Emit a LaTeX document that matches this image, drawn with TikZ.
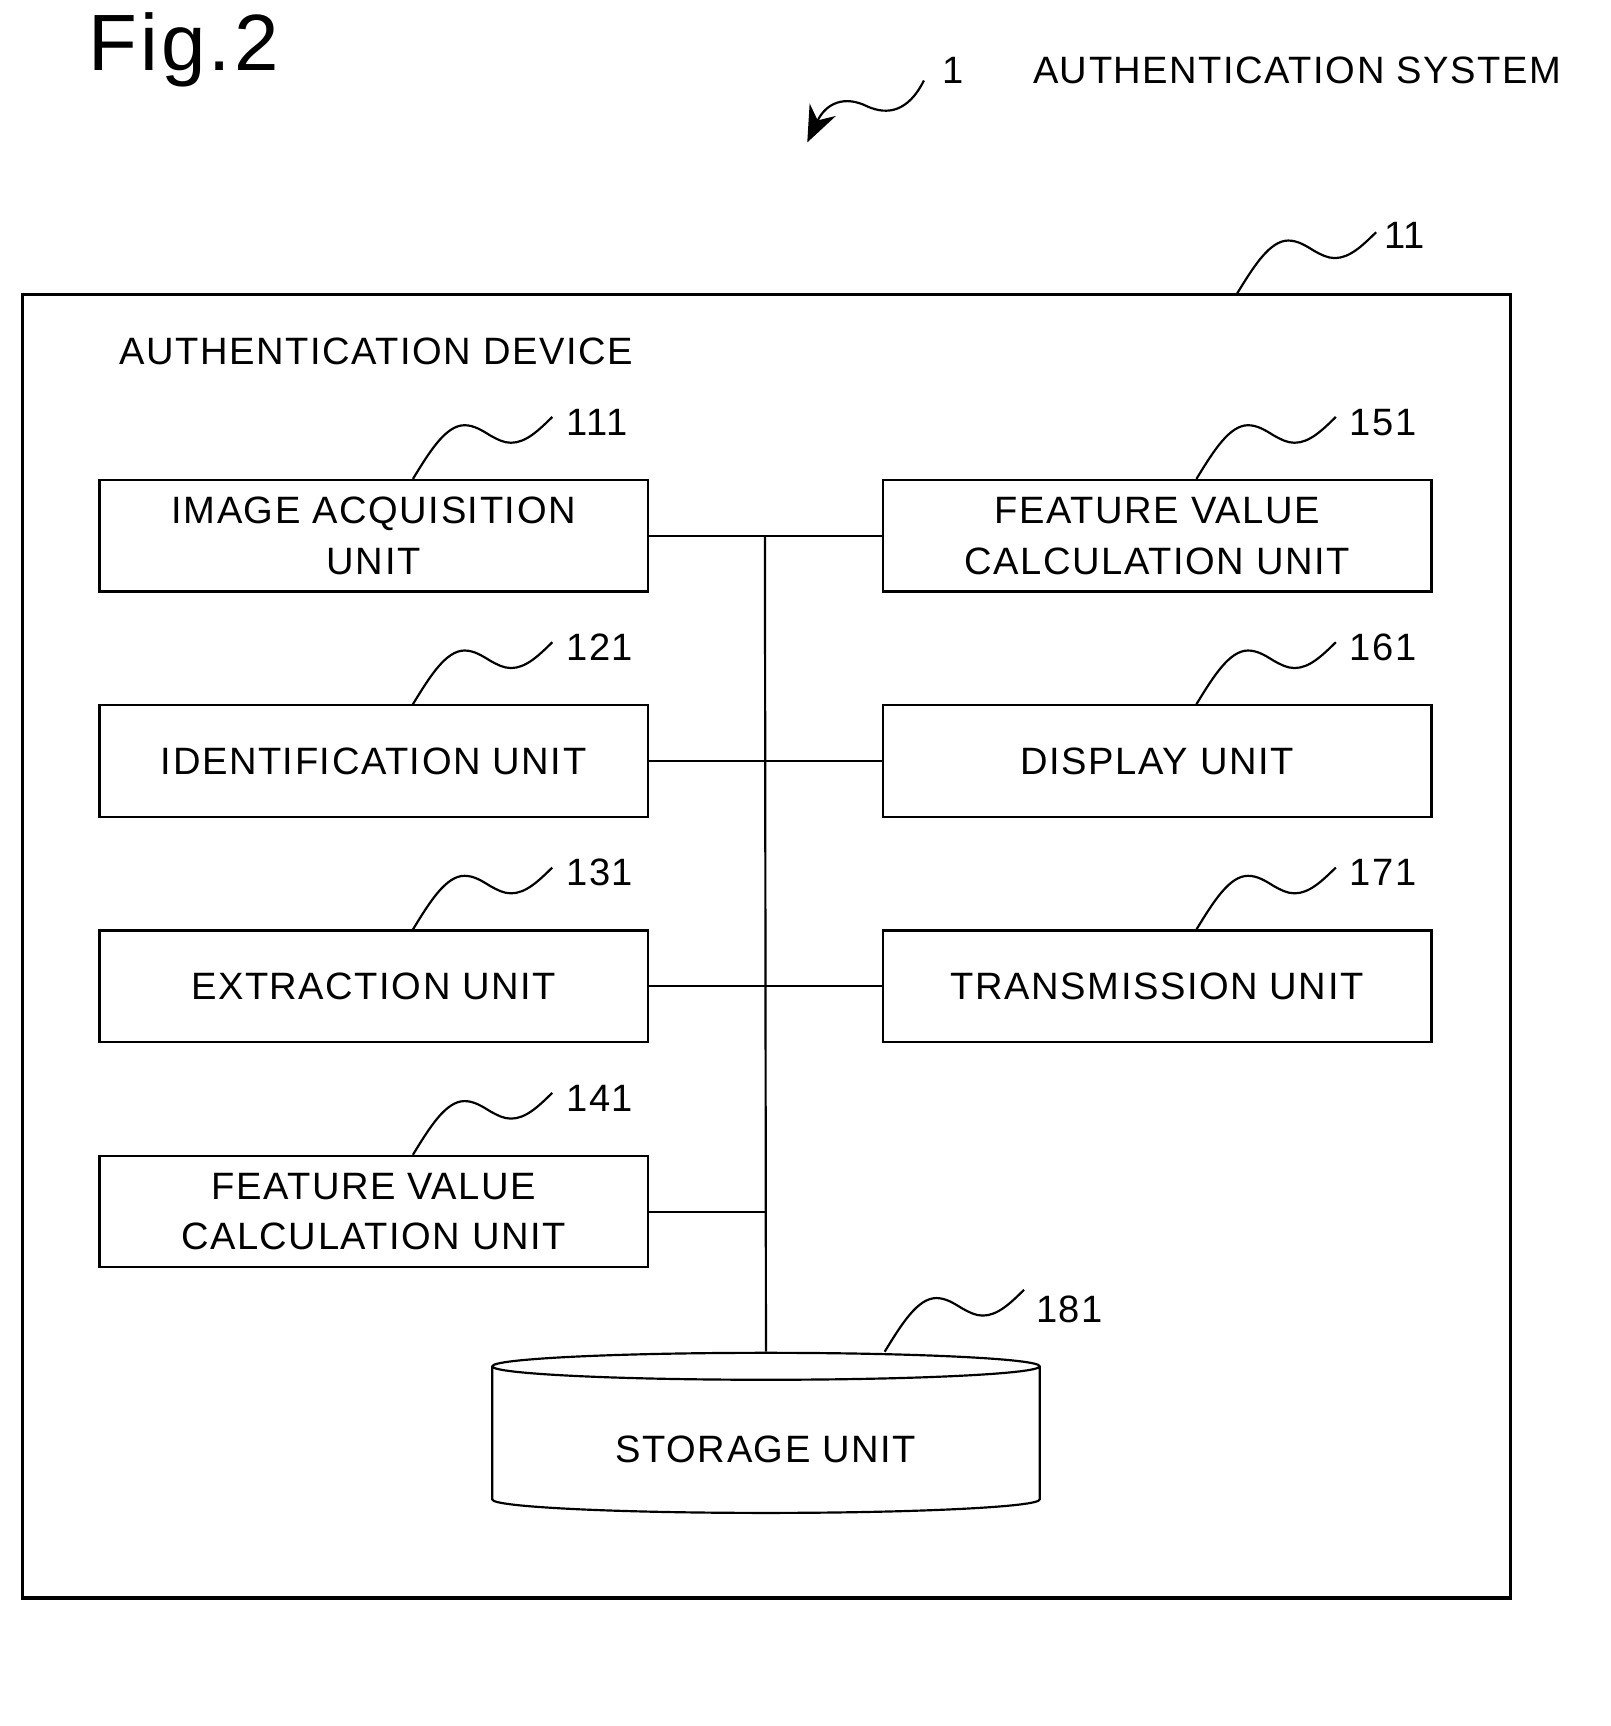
\documentclass[tikz,border=0pt]{standalone}
\usepackage{fontspec}
\setmainfont[LetterSpace=4]{Liberation Sans}
\usetikzlibrary{positioning,shapes.geometric,arrows.meta}

\tikzset{
  unit/.style={draw, line width=0.6pt, minimum width=5.31cm, minimum height=1.08cm,
    align=center, font=\fontsize{10.5}{14}\selectfont},
  refno/.style={font=\fontsize{10.5}{14}\selectfont, anchor=west, inner sep=0pt},
  lead/.style={line width=0.6pt},
  bus/.style={line width=0.6pt},
}

\begin{document}
\begin{tikzpicture}[x=0.01cm,y=-0.01cm]
  \useasboundingbox (0,0) rectangle (1560,1672);
  \node[font=\fontsize{22}{26}\selectfont, anchor=west, inner sep=0pt] (fig) at (85,48) {Fig.2};
  \node[refno] (sys) at (1000,68) {AUTHENTICATION SYSTEM};
  \node[refno] (n1) at (912,68) {1};
  \coordinate (s1) at (895,78);
  \coordinate (t1) at (782,138);
  \draw[lead, -{Stealth[length=3.5mm,width=2.8mm]}] (s1) .. controls (880,108) and (860,112) .. (840,103)
     .. controls (818,92) and (800,100) .. (t1);

  % device
  \draw[line width=0.9pt] (22,285) rectangle (1463,1548);
  \node[refno] (dev) at (115,340) {AUTHENTICATION DEVICE};
  \node[refno] (n11) at (1340,228) {11};
  \coordinate (s11) at (1198,285);
  \draw[lead] (s11) sin ++(50,-52) cos ++(25,10) sin ++(20,7) cos ++(40,-25);

  % units
  \node[unit] (img) at (362,519) {IMAGE ACQUISITION\\UNIT};
  \node[unit, below=1.08cm of img] (idn) {IDENTIFICATION UNIT};
  \node[unit, below=1.08cm of idn] (ext) {EXTRACTION UNIT};
  \node[unit, below=1.08cm of ext] (fvl) {FEATURE VALUE\\CALCULATION UNIT};
  \node[unit] (fvr) at (1121,519) {FEATURE VALUE\\CALCULATION UNIT};
  \node[unit, below=1.08cm of fvr] (dsp) {DISPLAY UNIT};
  \node[unit, below=1.08cm of dsp] (trn) {TRANSMISSION UNIT};
  \node[draw, line width=0.6pt, cylinder, shape border rotate=90, aspect=0.083,
    minimum width=5.3cm, minimum height=1.55cm, font=\fontsize{10.5}{14}\selectfont]
    (sto) at (742,1397) {\raisebox{-0.4cm}{STORAGE UNIT}};

  % reference numbers
  \foreach \u/\n in {img/111, idn/121, ext/131, fvl/141, fvr/151, dsp/161, trn/171} {
    \node[refno] (n\n) at ([shift={(186,-55)}]\u.north) {\n};
    \draw[lead] ([shift={(38,0)}]\u.north) sin ++(50,-52) cos ++(25,10) sin ++(20,7) cos ++(40,-25);
  }
  \node[refno] (n181) at (1003,1268) {181};
  \draw[lead] ([shift={(115,0)}]sto.north) sin ++(50,-52) cos ++(25,10) sin ++(20,7) cos ++(40,-25);

  % bus
  \coordinate (top) at (741,519);
  \draw[bus] (img.east) -- (fvr.west);
  \draw[bus] (idn.east) -- (dsp.west);
  \draw[bus] (ext.east) -- (trn.west);
  \draw[bus] (fvl.east) -- (fvl.east -| top);
  \draw[bus] (top) -- (sto.north);
\end{tikzpicture}
\end{document}
